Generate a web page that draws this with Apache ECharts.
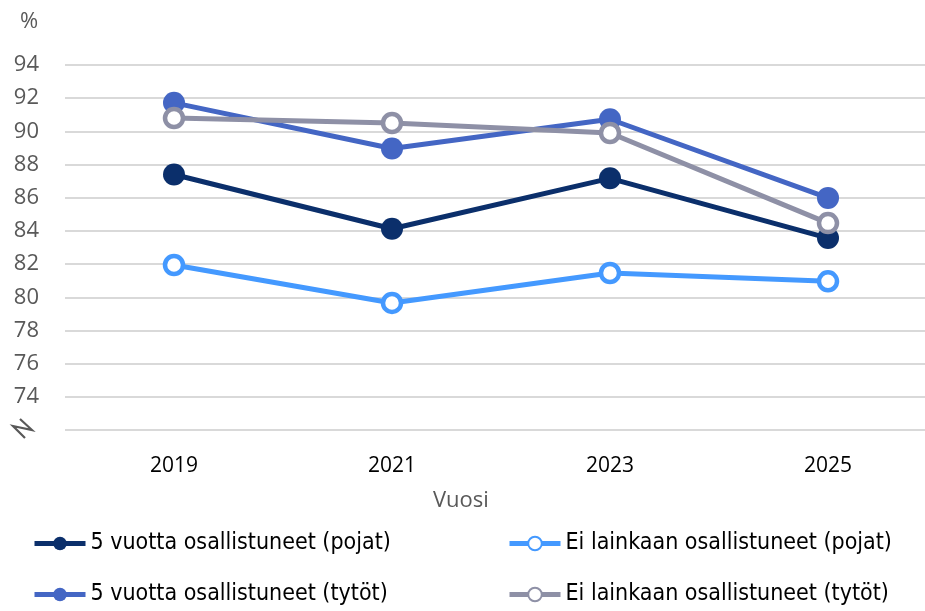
<!DOCTYPE html>
<html>
<head>
<meta charset="utf-8">
<script src="https://cdn.jsdelivr.net/npm/echarts@6/dist/echarts.min.js"></script>
<style>html,body{margin:0;padding:0;background:#fff;overflow:hidden;width:925px;height:611px}#c{width:937px;height:611px}</style>
</head>
<body>
<div id="c"></div>
<script>
const years = ['2019', '2021', '2023', '2025'];
const names = [
  '5 vuotta osallistuneet (pojat)',
  'Ei lainkaan osallistuneet (pojat)',
  '5 vuotta osallistuneet (tytöt)',
  'Ei lainkaan osallistuneet (tytöt)'
];
const poikaViisi = [87.4, 84.13, 87.17, 83.57];
const poikaEi = [81.95, 79.66, 81.46, 80.96];
const tyttoViisi = [91.72, 88.97, 90.73, 85.99];
const tyttoEi = [90.8, 90.5, 89.9, 84.47];
const yTicks = [72, 74, 76, 78, 80, 82, 84, 86, 88, 90, 92, 94];

const colors = ['#0B2F6B', '#4499FF', '#4466C4', '#8E90A6'];
const values = [poikaViisi, poikaEi, tyttoViisi, tyttoEi];
const hollow = [false, true, false, true];

const chart = echarts.init(document.getElementById('c'));
const series = values.map((v, i) => ({
  name: names[i],
  type: 'line',
  data: v,
  symbol: 'circle',
  symbolSize: hollow[i] ? 18 : 22,
  showSymbol: true,
  lineStyle: { color: colors[i], width: 5 },
  itemStyle: hollow[i]
    ? { color: '#ffffff', borderColor: colors[i], borderWidth: 4.5 }
    : { color: colors[i], borderWidth: 0 },
  emphasis: { disabled: true },
  z: 2 + i
}));

const legendText = { fontFamily: 'DejaVu Sans Condensed, Lato, sans-serif', fontSize: 23, color: '#000' };
const legendPos = [[32, 532], [507, 532], [32, 583], [507, 583]];
const legends = names.map((n, i) => ({
  data: [n],
  left: legendPos[i][0], top: legendPos[i][1],
  padding: 0,
  itemWidth: 51, itemHeight: 17, itemGap: 0,
  lineStyle: { width: 5 },
  textStyle: legendText,
  selectedMode: false
}));

chart.setOption({
  animation: false,
  grid: { left: 65, right: 0, top: 65, bottom: 181, containLabel: false },
  xAxis: {
    type: 'category',
    data: years,
    boundaryGap: true,
    axisLine: { show: false },
    axisTick: { show: false },
    axisLabel: { margin: 26, color: '#000', fontFamily: 'Open Sans', fontSize: 21 }
  },
  yAxis: {
    type: 'value',
    min: yTicks[0],
    max: yTicks[yTicks.length - 1],
    interval: 2,
    axisLine: { show: false },
    axisTick: { show: false },
    splitLine: { lineStyle: { color: '#D9D9D9', width: 2 } },
    axisLabel: {
      margin: 26,
      color: '#595959',
      fontFamily: 'Open Sans',
      fontSize: 22,
      formatter: v => (v === yTicks[0] ? '' : String(v))
    }
  },
  legend: legends,
  graphic: [
    { type: 'text', left: 20, top: 11, style: { text: '%', fontFamily: 'Open Sans', fontSize: 22, fill: '#595959' } },
    { type: 'text', left: 433, top: 490, style: { text: 'Vuosi', fontFamily: 'Open Sans', fontSize: 22, fill: '#595959' } },
    { type: 'polyline', shape: { points: [[20, 419], [32, 430], [13, 426], [25, 438]] }, style: { stroke: '#595959', lineWidth: 2.2, fill: null } }
  ],
  series: series
});
</script>
</body>
</html>
